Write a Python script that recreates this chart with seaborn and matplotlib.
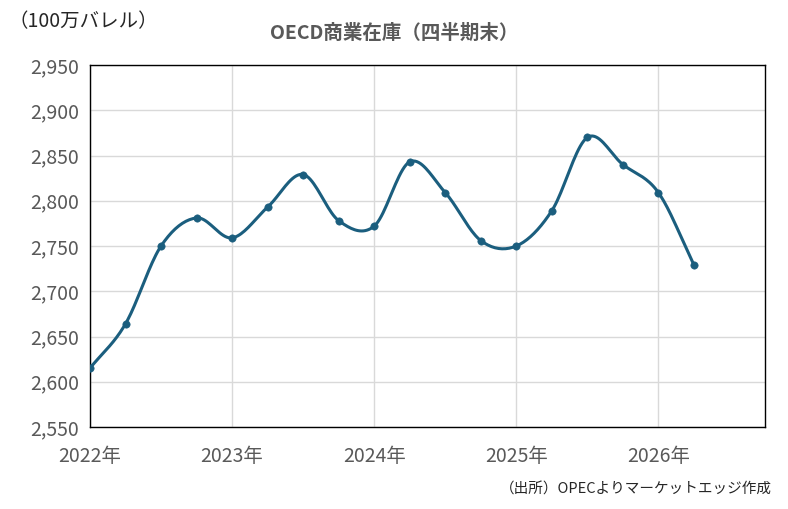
import numpy as np
import matplotlib
matplotlib.use("Agg")
import matplotlib.pyplot as plt
import seaborn as sns

# quarterly end values, 2022Q1 .. 2026Q2
quarters = np.arange(18) * 0.25 + 2022
stocks = [2615, 2664, 2750, 2781, 2759, 2793, 2829, 2778, 2772,
          2843, 2809, 2756, 2750, 2789, 2870, 2840, 2809, 2729]
year_ticks = [2022, 2023, 2024, 2025, 2026]
year_labels = ["2022年", "2023年", "2024年", "2025年", "2026年"]

sns.set_theme(style="white")
plt.rcParams['font.family'] = ['Noto Sans CJK JP', 'DejaVu Sans']

def smooth(x, y, n=20):
    # cubic hermite for a smoothed line like Excel
    x = np.asarray(x, float); y = np.asarray(y, float)
    m = np.gradient(y, x)
    xs, ys = [], []
    for i in range(len(x) - 1):
        h = x[i+1] - x[i]
        t = np.linspace(0, 1, n, endpoint=False)
        h00 = 2*t**3 - 3*t**2 + 1; h10 = t**3 - 2*t**2 + t
        h01 = -2*t**3 + 3*t**2; h11 = t**3 - t**2
        xs.append(x[i] + t*h)
        ys.append(h00*y[i] + h10*h*m[i] + h01*y[i+1] + h11*h*m[i+1])
    xs.append([x[-1]]); ys.append([y[-1]])
    return np.concatenate(xs), np.concatenate(ys)

color = "#1B5E7E"
fig = plt.figure(figsize=(7.88, 5.09), dpi=100)
ax = fig.add_axes([90/788, 1-427/509, 675/788, 362/509])
sx, sy = smooth(quarters, stocks)
sns.lineplot(x=sx, y=sy, ax=ax, color=color, linewidth=2.2, sort=False)
sns.scatterplot(x=quarters, y=stocks, ax=ax, color=color, s=28, edgecolor=color, zorder=3)

ax.set_xlim(2022, 2026.75)
ax.set_ylim(2550, 2950)
ax.set_yticks(range(2550, 2951, 50))
ax.set_yticklabels([f"{v:,}" for v in range(2550, 2951, 50)])
ax.set_xticks(year_ticks)
ax.set_xticklabels(year_labels)
ax.grid(True, color="#D9D9D9", linewidth=1)
ax.tick_params(axis="both", labelsize=14, colors="#595959", length=0)
ax.tick_params(axis="y", pad=8)
ax.tick_params(axis="x", pad=14)
for s in ax.spines.values():
    s.set_color("black"); s.set_linewidth(1)

fig.text(0.5, 1-33/509, "OECD商業在庫（四半期末）", ha="center", va="center",
         fontsize=14, fontweight="bold", color="#595959")
fig.text(8/788, 1-22/509, "（100万バレル）", ha="left", va="center", fontsize=14, color="#262626")
fig.text(772/788, 1-490/509, "（出所）OPECよりマーケットエッジ作成", ha="right", va="center",
         fontsize=10.5, color="#262626")
fig.savefig("out.png", dpi=100)
